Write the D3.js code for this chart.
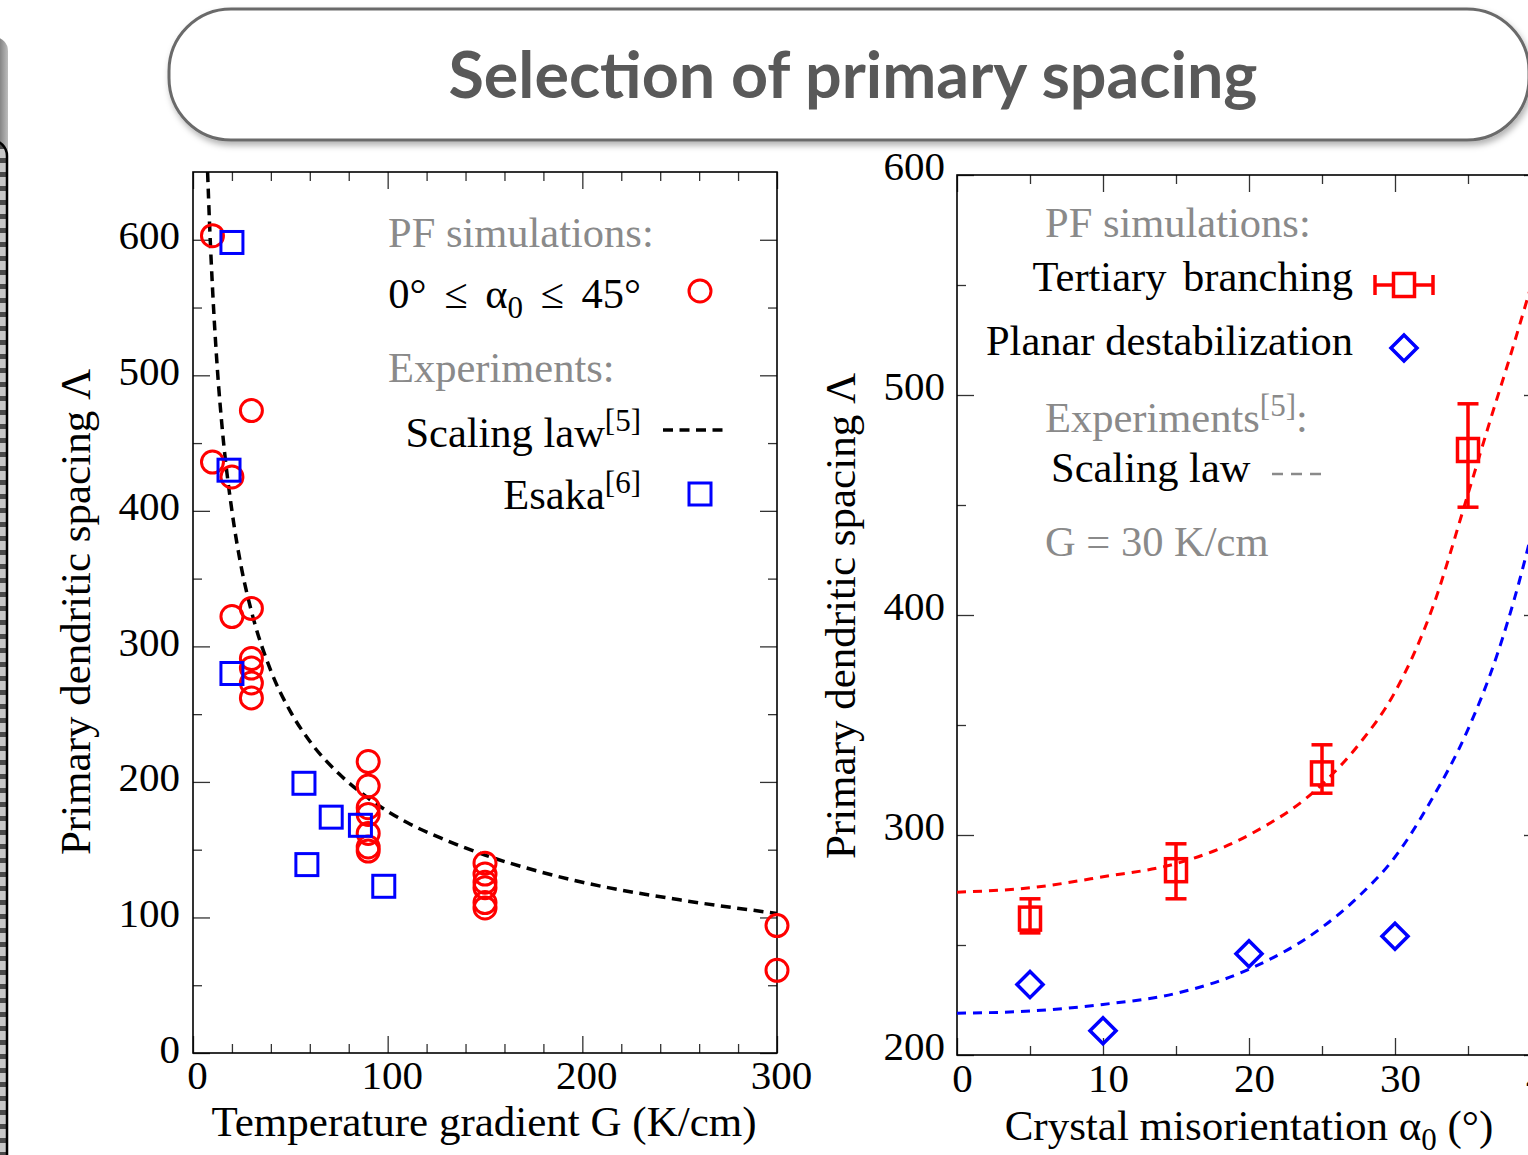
<!DOCTYPE html>
<html>
<head>
<meta charset="utf-8">
<script src="https://cdn.jsdelivr.net/npm/d3@7"></script>
<style>
  body { margin: 0; background: #fff; overflow: hidden; }
  svg text { font-family: "Liberation Serif", "Times New Roman", serif; }
</style>
</head>
<body>
<div id="chart"></div>
<script>
// ---- left panel: spacing vs temperature gradient ----
// PF simulations (red circles)
const pfG      = [10, 30, 10, 20, 20, 30, 30, 30, 30, 30, 90, 90, 90, 90, 90, 90, 90, 150, 150, 150, 150, 150, 150, 300, 300];
const pfLambda = [603, 474, 436, 425, 322, 328, 291, 284, 273, 262, 215, 197, 181, 176, 162, 152, 149, 140, 132, 126, 122, 111, 107, 94, 61];
// Esaka experiments (blue squares)
const esakaG      = [20, 18.5, 20, 57, 71, 86, 58.5, 98];
const esakaLambda = [598, 430, 280, 199, 174, 168, 139, 123];
// scaling law curve
const lawG      = [7.5, 8.5, 10, 12.5, 15, 20, 25, 30, 40, 50, 60, 75, 90, 110, 130, 150, 175, 200, 250, 300];
const lawLambda = [650, 612, 565, 505, 461, 400, 357, 326, 282, 252, 230, 206, 188, 170, 157, 146, 135, 126, 113, 103];
const leftXTicks = [0, 100, 200, 300];
const leftYTicks = [0, 100, 200, 300, 400, 500, 600];

// ---- right panel: spacing vs misorientation ----
// tertiary branching (red squares with error bars)
const tbAlpha  = [5, 15, 25, 35];
const tbLambda = [262, 284, 328, 475];
const tbLow    = [255.5, 271, 319, 449];
const tbHigh   = [271, 296, 341, 496];
// planar destabilization (blue diamonds)
const pdAlpha  = [5, 10, 20, 30];
const pdLambda = [232, 211, 246, 254];
// scaling law curves
const redLawAlpha   = [0, 5, 10, 15, 20, 25, 27.5, 30, 32.5, 35, 36.5, 38, 40];
const redLawLambda  = [274, 276, 281, 287, 300, 323, 341, 365, 402, 455, 488, 520, 565];
const blueLawAlpha  = [0, 5, 10, 15, 20, 25, 27.5, 30, 32.5, 35, 37, 38.5, 40];
const blueLawLambda = [219, 220, 223, 228, 239, 258, 272, 290, 316, 348, 382, 415, 455];
const rightXTicks = [0, 10, 20, 30, 40];
const rightYTicks = [200, 300, 400, 500, 600];

const svg = d3.select("#chart")
    .append("svg")
    .attr("width", 1528)
    .attr("height", 1155);

const defs = svg.append("defs");

// shadow for the title pill
const shadow = defs.append("filter").attr("id", "shadow")
    .attr("x", "-5%").attr("y", "-20%").attr("width", "110%").attr("height", "150%");
shadow.append("feDropShadow")
    .attr("dx", 2).attr("dy", 4).attr("stdDeviation", 3)
    .attr("flood-color", "#000").attr("flood-opacity", 0.3);

const sideGrad = defs.append("linearGradient").attr("id", "sideGrad")
    .attr("x1", "0%").attr("x2", "100%");
sideGrad.append("stop").attr("offset", "0%").attr("stop-color", "#3a3a3a");
sideGrad.append("stop").attr("offset", "75%").attr("stop-color", "#6a6a6a");
sideGrad.append("stop").attr("offset", "100%").attr("stop-color", "#bdbdbd");

// stripy texture for the cut-off micrograph at the left edge
const stripes = defs.append("pattern").attr("id", "stripes")
    .attr("patternUnits", "userSpaceOnUse").attr("width", 10).attr("height", 14);
stripes.append("rect").attr("width", 10).attr("height", 14).attr("fill", "#c8c8c8");
stripes.append("rect").attr("y", 4).attr("width", 10).attr("height", 5).attr("fill", "#4a4a4a");

// left edge: piece of neighbouring slide element
svg.append("rect")
    .attr("x", -40).attr("y", 37).attr("width", 48).attr("height", 130).attr("rx", 14)
    .attr("fill", "url(#sideGrad)");
svg.append("rect")
    .attr("x", -40).attr("y", 140).attr("width", 47).attr("height", 1060).attr("rx", 16)
    .attr("fill", "url(#stripes)").attr("stroke", "#000").attr("stroke-width", 2.5);

// title pill
svg.append("rect")
    .attr("x", 169).attr("y", 9).attr("width", 1360).attr("height", 131).attr("rx", 62)
    .attr("fill", "#fff").attr("stroke", "#6b6b6b").attr("stroke-width", 3)
    .attr("filter", "url(#shadow)");
svg.append("text")
    .attr("x", 853).attr("y", 98)
    .attr("text-anchor", "middle")
    .attr("textLength", 809).attr("lengthAdjust", "spacingAndGlyphs")
    .style("font-family", "Lato, 'Open Sans', sans-serif")
    .style("font-weight", "bold")
    .style("font-size", "65px")
    .attr("fill", "#595959")
    .text("Selection of primary spacing");

// draws a framed plot with inward major/minor ticks on all four sides
function framedAxes(g, x, y, w, h, xMajor, xMinor, yMajor, yMinor, xPad, yPad) {
    const major = 17, minor = 9;
    const sets = [
        [d3.axisBottom(x), xMajor, major, true, `translate(0,${h})`, xPad],
        [d3.axisBottom(x), xMinor, minor, false, `translate(0,${h})`, 0],
        [d3.axisTop(x), xMajor, major, false, null, 0],
        [d3.axisTop(x), xMinor, minor, false, null, 0],
        [d3.axisLeft(y), yMajor, major, true, null, yPad],
        [d3.axisLeft(y), yMinor, minor, false, null, 0],
        [d3.axisRight(y), yMajor, major, false, `translate(${w},0)`, 0],
        [d3.axisRight(y), yMinor, minor, false, `translate(${w},0)`, 0]
    ];
    sets.forEach(([axis, vals, len, labels, tr, pad]) => {
        const a = g.append("g")
            .call(axis.tickValues(vals).tickSizeInner(-len).tickSizeOuter(0)
                .tickPadding(pad).tickFormat(labels ? d3.format("d") : ""));
        if (tr) a.attr("transform", tr);
        a.select(".domain").remove();
        a.selectAll("line").attr("stroke", "#333").attr("stroke-width", 1.3);
        a.selectAll("text").style("font-size", "41px").attr("fill", "#000")
            .style("font-family", "'Liberation Serif', serif");
    });
    g.append("rect")
        .attr("width", w).attr("height", h)
        .attr("fill", "none").attr("stroke", "#000").attr("stroke-width", 1.6);
}

// ================= LEFT PANEL =================
const L = { left: 193, top: 172, width: 584, height: 881 };
const gl = svg.append("g").attr("transform", `translate(${L.left},${L.top})`);

const xl = d3.scaleLinear().domain([0, 300]).range([0, L.width]);
const yl = d3.scaleLinear().domain([0, 650]).range([L.height, 0]);

framedAxes(gl, xl, yl, L.width, L.height,
    leftXTicks, d3.range(0, 301, 20).filter(v => v % 100),
    leftYTicks, d3.range(50, 650, 100), 7, 13);

// nudge tick labels a bit like the original
gl.selectAll("text").filter(function () { return d3.select(this).attr("y") === "7"; }).attr("dx", 4);
gl.selectAll("text").filter(function () { return d3.select(this).attr("x") === "-13"; }).attr("dy", "0.22em");

defs.append("clipPath").attr("id", "clipL")
    .append("rect").attr("width", L.width).attr("height", L.height);

// scaling law
const lawData = lawG.map((g, i) => [g, lawLambda[i]]);
gl.append("path")
    .datum(lawData)
    .attr("clip-path", "url(#clipL)")
    .attr("fill", "none")
    .attr("stroke", "#000")
    .attr("stroke-width", 3.5)
    .attr("stroke-dasharray", "10,6.5")
    .attr("d", d3.line().x(d => xl(d[0])).y(d => yl(d[1])).curve(d3.curveMonotoneX));

// PF circles
gl.append("g").selectAll("circle")
    .data(pfG.map((g, i) => [g, pfLambda[i]]))
    .join("circle")
    .attr("cx", d => xl(d[0]))
    .attr("cy", d => yl(d[1]))
    .attr("r", 11)
    .attr("fill", "none")
    .attr("stroke", "#ff0000")
    .attr("stroke-width", 3);

// Esaka squares
gl.append("g").selectAll("rect")
    .data(esakaG.map((g, i) => [g, esakaLambda[i]]))
    .join("rect")
    .attr("x", d => xl(d[0]) - 11)
    .attr("y", d => yl(d[1]) - 11)
    .attr("width", 22).attr("height", 22)
    .attr("fill", "none")
    .attr("stroke", "#0000ff")
    .attr("stroke-width", 3);

// axis titles
svg.append("text")
    .attr("x", 484).attr("y", 1136)
    .attr("text-anchor", "middle")
    .style("font-size", "43px")
    .text("Temperature gradient G (K/cm)");
svg.append("text")
    .attr("transform", "translate(90,612) rotate(-90)")
    .attr("text-anchor", "middle")
    .style("font-size", "43px")
    .text("Primary dendritic spacing Λ");

// legend
const legendFont = "42.5px";
const gray = "#8a8a8a";
svg.append("text").attr("x", 388).attr("y", 247).attr("fill", gray)
    .style("font-size", legendFont).text("PF simulations:");
const t1 = svg.append("text").attr("x", 641).attr("y", 308).attr("text-anchor", "end")
    .style("font-size", legendFont).style("word-spacing", "7px");
t1.append("tspan").text("0° ≤ α");
t1.append("tspan").attr("dy", 10).style("font-size", "31px").text("0");
t1.append("tspan").attr("dy", -10).text(" ≤ 45°");
svg.append("circle").attr("cx", 700).attr("cy", 291).attr("r", 11)
    .attr("fill", "none").attr("stroke", "#ff0000").attr("stroke-width", 3);

svg.append("text").attr("x", 388).attr("y", 382).attr("fill", gray)
    .style("font-size", legendFont).text("Experiments:");
const t2 = svg.append("text").attr("x", 641).attr("y", 447).attr("text-anchor", "end")
    .style("font-size", legendFont);
t2.append("tspan").text("Scaling law");
t2.append("tspan").attr("dy", -16).style("font-size", "31px").text("[5]");
svg.append("line").attr("x1", 663).attr("x2", 722.5).attr("y1", 430).attr("y2", 430)
    .attr("stroke", "#000").attr("stroke-width", 3.5).attr("stroke-dasharray", "10,6.5");
const t3 = svg.append("text").attr("x", 641).attr("y", 509).attr("text-anchor", "end")
    .style("font-size", legendFont);
t3.append("tspan").text("Esaka");
t3.append("tspan").attr("dy", -16).style("font-size", "31px").text("[6]");
svg.append("rect").attr("x", 689).attr("y", 483).attr("width", 22).attr("height", 22)
    .attr("fill", "none").attr("stroke", "#0000ff").attr("stroke-width", 3);

// ================= RIGHT PANEL =================
const R = { left: 957, top: 175, width: 584, height: 880 };
const gr = svg.append("g").attr("transform", `translate(${R.left},${R.top})`);

const xr = d3.scaleLinear().domain([0, 40]).range([0, R.width]);
const yr = d3.scaleLinear().domain([200, 600]).range([R.height, 0]);

framedAxes(gr, xr, yr, R.width, R.height,
    rightXTicks, d3.range(5, 41, 10),
    rightYTicks, d3.range(250, 600, 100), 8, 12);

gr.selectAll("text").filter(function () { return d3.select(this).attr("y") === "8"; }).attr("dx", 5);
gr.selectAll("text").filter(function () { return d3.select(this).attr("x") === "-12"; }).attr("dy", "0.12em");

defs.append("clipPath").attr("id", "clipR")
    .append("rect").attr("width", R.width).attr("height", R.height);

const lawLine = d3.line().x(d => xr(d[0])).y(d => yr(d[1])).curve(d3.curveMonotoneX);
gr.append("path")
    .datum(redLawAlpha.map((a, i) => [a, redLawLambda[i]]))
    .attr("clip-path", "url(#clipR)")
    .attr("fill", "none").attr("stroke", "#ff0000").attr("stroke-width", 3)
    .attr("stroke-dasharray", "9,7")
    .attr("d", lawLine);
gr.append("path")
    .datum(blueLawAlpha.map((a, i) => [a, blueLawLambda[i]]))
    .attr("clip-path", "url(#clipR)")
    .attr("fill", "none").attr("stroke", "#0000ff").attr("stroke-width", 3)
    .attr("stroke-dasharray", "9,7")
    .attr("d", lawLine);

// tertiary branching with error bars
const tb = gr.append("g").selectAll("g")
    .data(tbAlpha.map((a, i) => ({ a: a, v: tbLambda[i], lo: tbLow[i], hi: tbHigh[i] })))
    .join("g")
    .attr("stroke", "#ff0000").attr("stroke-width", 3.5).attr("fill", "none");
tb.append("line")
    .attr("x1", d => xr(d.a)).attr("x2", d => xr(d.a))
    .attr("y1", d => yr(d.lo)).attr("y2", d => yr(d.hi));
tb.append("line")
    .attr("x1", d => xr(d.a) - 10.5).attr("x2", d => xr(d.a) + 10.5)
    .attr("y1", d => yr(d.lo)).attr("y2", d => yr(d.lo));
tb.append("line")
    .attr("x1", d => xr(d.a) - 10.5).attr("x2", d => xr(d.a) + 10.5)
    .attr("y1", d => yr(d.hi)).attr("y2", d => yr(d.hi));
tb.append("rect")
    .attr("x", d => xr(d.a) - 10.5).attr("y", d => yr(d.v) - 11.5)
    .attr("width", 21).attr("height", 23);

// planar destabilization diamonds
const diamond = d3.symbol().type(d3.symbolSquare).size(340);
gr.append("g").selectAll("path")
    .data(pdAlpha.map((a, i) => [a, pdLambda[i]]))
    .join("path")
    .attr("transform", d => `translate(${xr(d[0])},${yr(d[1])}) rotate(45)`)
    .attr("d", diamond)
    .attr("fill", "none").attr("stroke", "#0000ff").attr("stroke-width", 3.5);

// axis titles
const xt = svg.append("text")
    .attr("x", 1249).attr("y", 1140)
    .attr("text-anchor", "middle")
    .style("font-size", "43px");
xt.append("tspan").text("Crystal misorientation α");
xt.append("tspan").attr("dy", 10).style("font-size", "31px").text("0");
xt.append("tspan").attr("dy", -10).text(" (°)");
svg.append("text")
    .attr("transform", "translate(855,616) rotate(-90)")
    .attr("text-anchor", "middle")
    .style("font-size", "43px")
    .text("Primary dendritic spacing Λ");

// legend
svg.append("text").attr("x", 1045).attr("y", 237).attr("fill", gray)
    .style("font-size", legendFont).text("PF simulations:");
svg.append("text").attr("x", 1353).attr("y", 291).attr("text-anchor", "end")
    .style("font-size", legendFont).style("word-spacing", "6px").text("Tertiary branching");
const lg = svg.append("g").attr("stroke", "#ff0000").attr("stroke-width", 3.5).attr("fill", "none");
lg.append("line").attr("x1", 1375).attr("x2", 1433).attr("y1", 285).attr("y2", 285);
lg.append("line").attr("x1", 1375).attr("x2", 1375).attr("y1", 275).attr("y2", 295);
lg.append("line").attr("x1", 1433).attr("x2", 1433).attr("y1", 275).attr("y2", 295);
lg.append("rect").attr("x", 1393.5).attr("y", 273.5).attr("width", 21).attr("height", 23).attr("fill", "#fff");
svg.append("text").attr("x", 1353).attr("y", 355).attr("text-anchor", "end")
    .style("font-size", legendFont).text("Planar destabilization");
svg.append("path")
    .attr("transform", "translate(1404,348) rotate(45)")
    .attr("d", diamond)
    .attr("fill", "none").attr("stroke", "#0000ff").attr("stroke-width", 3.5);

const t4 = svg.append("text").attr("x", 1045).attr("y", 432).attr("fill", gray)
    .style("font-size", legendFont);
t4.append("tspan").text("Experiments");
t4.append("tspan").attr("dy", -16).style("font-size", "31px").text("[5]");
t4.append("tspan").attr("dy", 16).text(":");
svg.append("text").attr("x", 1051).attr("y", 482)
    .style("font-size", legendFont).text("Scaling law");
svg.append("line").attr("x1", 1272).attr("x2", 1321).attr("y1", 474).attr("y2", 474)
    .attr("stroke", gray).attr("stroke-width", 2.5).attr("stroke-dasharray", "11,8");
svg.append("text").attr("x", 1045).attr("y", 556).attr("fill", gray)
    .style("font-size", legendFont).text("G = 30 K/cm");
</script>
</body>
</html>
